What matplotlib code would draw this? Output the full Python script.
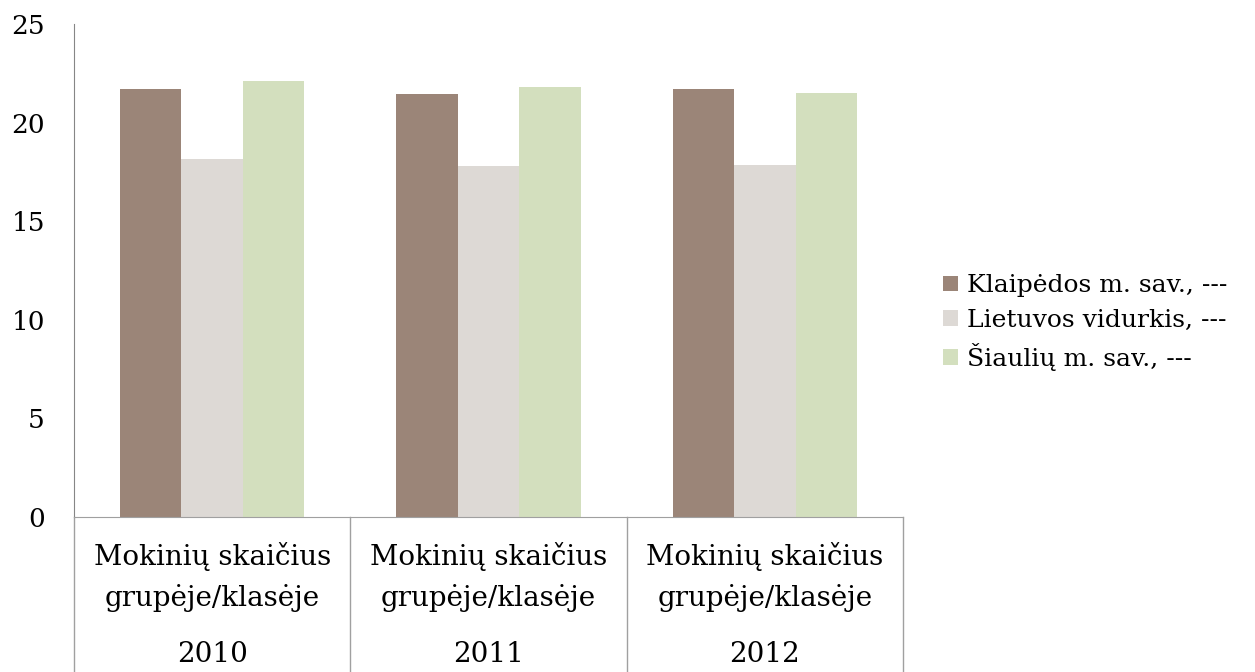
import matplotlib
matplotlib.use('Agg')
import matplotlib.pyplot as plt
import numpy as np

# duomenys
metai = ['2010', '2011', '2012']
kat_eil1 = 'Mokinių skaičius'
kat_eil2 = 'grupėje/klasėje'
serijos = ['Klaipėdos m. sav., ---', 'Lietuvos vidurkis, ---', 'Šiaulių m. sav., ---']
klaipeda = [21.7, 21.45, 21.7]
lietuva = [18.15, 17.8, 17.85]
siauliai = [22.1, 21.8, 21.5]
spalvos = ['#9b8578', '#ddd9d5', '#d3dfbe']

plt.rcParams['font.family'] = ['DejaVu Serif']

fig = plt.figure(figsize=(12.55, 6.72), dpi=100)
ax = fig.add_axes([0.059, 0.2307, 0.6605, 0.7335])

x = np.arange(len(metai))
w = 1 / 4.5
for i, (vals, lbl) in enumerate(zip([klaipeda, lietuva, siauliai], serijos)):
    ax.bar(x + (i - 1) * w, vals, w, color=spalvos[i], label=lbl)

ax.set_xlim(-0.5, len(metai) - 0.5)
ax.set_ylim(0, 25)
ax.set_yticks([0, 5, 10, 15, 20, 25])
ax.tick_params(axis='y', length=0, pad=21, labelsize=19)
ax.set_xticks([])

for s in ['top', 'right']:
    ax.spines[s].set_visible(False)
ax.spines['left'].set_color('#868686')
ax.spines['bottom'].set_color('#a0a0a0')

# kategoriju skyrikliai
tr = ax.get_xaxis_transform()
for sx in np.arange(-0.5, len(metai), 1.0):
    ax.plot([sx, sx], [0, -0.32], transform=tr, color='#a0a0a0', lw=1, clip_on=False)

for i, m in enumerate(metai):
    ax.text(i, -0.08, kat_eil1, transform=tr, ha='center', va='center', fontsize=20)
    ax.text(i, -0.164, kat_eil2, transform=tr, ha='center', va='center', fontsize=20)
    ax.text(i, -0.28, m, transform=tr, ha='center', va='center', fontsize=20)

fig.legend(loc='center left', bbox_to_anchor=(0.7435, 0.52), frameon=False,
           fontsize=18, handlelength=0.6, handleheight=0.6, handletextpad=0.35,
           labelspacing=0.45, borderaxespad=0)

plt.savefig('out.png', dpi=100)
